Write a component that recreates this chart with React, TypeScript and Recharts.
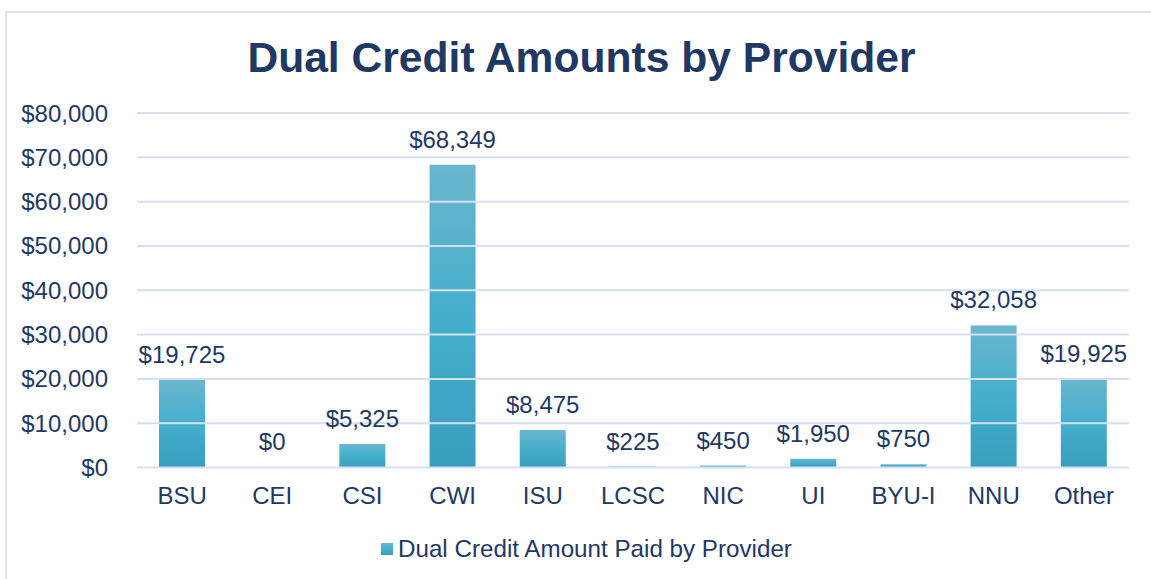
import React from "react";
import {
  BarChart,
  Bar,
  XAxis,
  YAxis,
  CartesianGrid,
  LabelList,
} from "recharts";

// Dual credit amounts paid, per provider
const providers = ["BSU", "CEI", "CSI", "CWI", "ISU", "LCSC", "NIC", "UI", "BYU-I", "NNU", "Other"];
const amountsPaid = [19725, 0, 5325, 68349, 8475, 225, 450, 1950, 750, 32058, 19925];
const yTicks = [0, 10000, 20000, 30000, 40000, 50000, 60000, 70000, 80000];

const SERIES_NAME = "Dual Credit Amount Paid by Provider";
const TEXT = "#1F3864";
const GRID = "#D6E0F2";
const FONT = "'Liberation Sans', Arial, sans-serif";
const FS = 24;

const data = providers.map((name, i) => ({ name, amount: amountsPaid[i] }));

const money = (v: number) => `$${Number(v).toLocaleString("en-US")}`;

export default function App() {
  return (
    <div
      style={{
        position: "absolute",
        left: 0,
        top: 0,
        width: 1151,
        height: 579,
        background: "#fff",
        overflow: "hidden",
        fontFamily: FONT,
      }}
    >
      {/* chart frame -- only the left and top edges fall inside the crop */}
      <div
        style={{
          position: "absolute",
          left: 5,
          top: 11,
          width: 1160,
          height: 600,
          border: `2px solid #DCE5F4`,
          boxSizing: "border-box",
        }}
      />
      <div
        style={{
          position: "absolute",
          left: 0,
          top: 34,
          width: 1163,
          textAlign: "center",
          fontSize: 42.6,
          lineHeight: "47px",
          fontWeight: "bold",
          color: TEXT,
        }}
      >
        Dual Credit Amounts by Provider
      </div>

      <div style={{ position: "absolute", left: 0, top: 0 }}>
        <BarChart
          width={1151}
          height={579}
          data={data}
          margin={{ top: 113, right: 22, bottom: 81.5, left: 0 }}
        >
          <defs>
            <linearGradient id="barFill" x1="0" y1="0" x2="0" y2="1">
              <stop offset="0%" stopColor="#6AB6CE" />
              <stop offset="50%" stopColor="#44AFCC" />
              <stop offset="100%" stopColor="#389EBD" />
            </linearGradient>
          </defs>
          <XAxis
            dataKey="name"
            height={30}
            axisLine={false}
            tickLine={false}
            tickSize={0}
            tickMargin={19}
            interval={0}
            tick={{ fill: TEXT, fontSize: FS, fontFamily: FONT }}
          />
          <YAxis
            width={137}
            domain={[0, 80000]}
            ticks={yTicks}
            axisLine={false}
            tickLine={false}
            tickSize={0}
            tickMargin={29}
            tickFormatter={money}
            tick={{ fill: TEXT, fontSize: FS, fontFamily: FONT }}
          />
          {/* tiny minPointSize so the $0 bar still gets its label */}
          <Bar
            dataKey="amount"
            name={SERIES_NAME}
            fill="url(#barFill)"
            barSize={46}
            minPointSize={0.3}
            isAnimationActive={false}
          >
            <LabelList
              dataKey="amount"
              position="top"
              offset={17}
              formatter={(v: any) => money(v)}
              style={{ fill: TEXT, fontSize: FS, fontFamily: FONT }}
            />
          </Bar>
          {/* Excel draws the gridlines over the bars */}
          <CartesianGrid
            vertical={false}
            stroke={GRID}
            strokeWidth={2}
            {...({ zIndex: 500 } as any)}
          />
        </BarChart>
      </div>

      {/* legend */}
      <div
        style={{
          position: "absolute",
          left: 381,
          top: 535,
          display: "flex",
          alignItems: "center",
          fontSize: 24.2,
          lineHeight: "27px",
          color: TEXT,
          whiteSpace: "nowrap",
        }}
      >
        <div
          style={{
            width: 12,
            height: 12,
            marginRight: 5,
            marginTop: 1,
            background: "linear-gradient(#6AB6CE, #44AFCC 50%, #389EBD)",
          }}
        />
        <span>{SERIES_NAME}</span>
      </div>
    </div>
  );
}
